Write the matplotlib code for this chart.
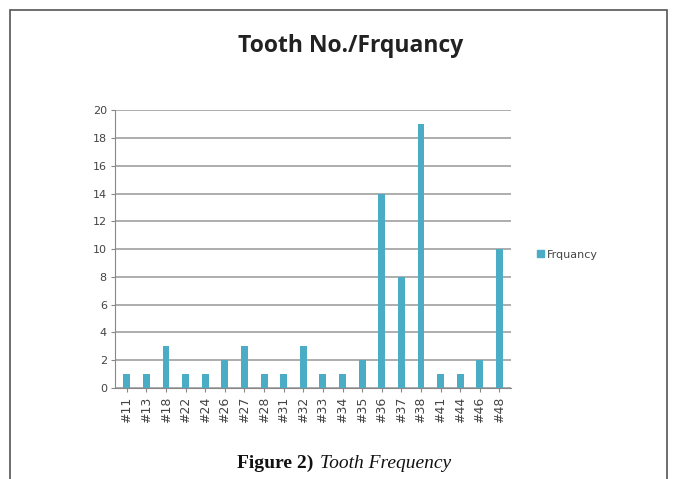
import matplotlib
matplotlib.use("Agg")
import matplotlib.pyplot as plt
from matplotlib.patches import Rectangle, Patch

# Tooth numbers and how often each appeared
teeth = ["#11", "#13", "#18", "#22", "#24", "#26", "#27", "#28", "#31", "#32",
         "#33", "#34", "#35", "#36", "#37", "#38", "#41", "#44", "#46", "#48"]
frequency = [1, 1, 3, 1, 1, 2, 3, 1, 1, 3, 1, 1, 2, 14, 8, 19, 1, 1, 2, 10]
y_ticks = list(range(0, 21, 2))

bar_color = "#4BACC6"

fig = plt.figure(figsize=(6.77, 4.79), dpi=100)
ax = fig.add_axes([0.170, 0.190, 0.585, 0.580])

x = list(range(len(teeth)))
ax.bar(x, frequency, width=0.35, color=bar_color, label="Frquancy", zorder=3)

ax.set_ylim(0, 20)
ax.set_xlim(-0.6, len(teeth) - 0.4)
ax.set_yticks(y_ticks)
ax.set_yticklabels([str(v) for v in y_ticks], fontsize=8, color="#444444")
ax.set_xticks(x)
ax.set_xticklabels(teeth, rotation=90, fontsize=9, color="#444444")
ax.yaxis.grid(True, color="#a0a0a0", linewidth=1.2, zorder=0)
ax.xaxis.grid(False)
for side in ("top", "right"):
    ax.spines[side].set_visible(False)
ax.spines["left"].set_color("#888888")
ax.spines["bottom"].set_color("#888888")
ax.tick_params(axis="both", length=3, color="#888888", pad=3)

fig.text(0.518, 0.905, "Tooth No./Frquancy", ha="center", va="center",
         fontsize=16.5, fontweight="bold", family="Open Sans", color="#222222")

ax.legend(handles=[Patch(color=bar_color, label="Frquancy")],
          loc="center left", bbox_to_anchor=(1.04, 0.48), frameon=False,
          fontsize=8, handlelength=0.6, handleheight=0.6, handletextpad=0.3,
          labelcolor="#444444")

# outer frame around the figure panel
fig.patches.append(Rectangle((0.015, -0.05), 0.970, 1.029, transform=fig.transFigure,
                             fill=False, edgecolor="#555555", linewidth=1.2))

fig.text(0.463, 0.033, "Figure 2)", ha="right", va="center", fontsize=14,
         fontweight="bold", family="Liberation Serif", color="#111111")
fig.text(0.472, 0.033, "Tooth Frequency", ha="left", va="center", fontsize=14,
         style="italic", family="Liberation Serif", color="#111111")

fig.savefig("out.png", dpi=100)
